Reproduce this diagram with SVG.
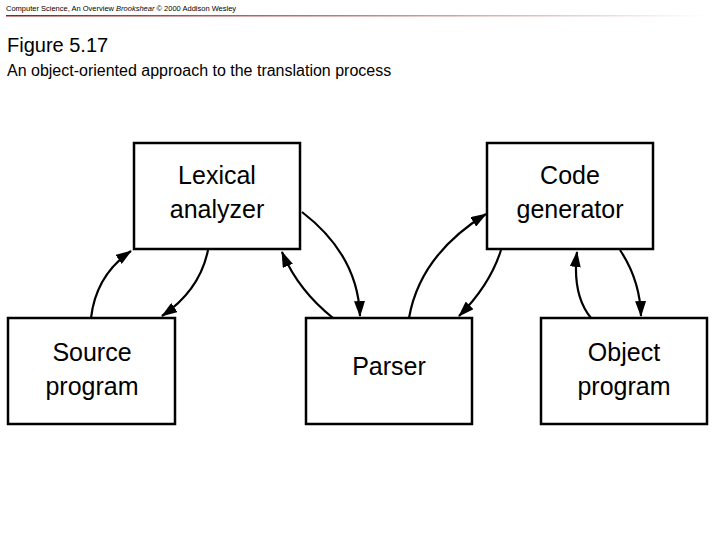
<svg xmlns="http://www.w3.org/2000/svg" width="720" height="540" viewBox="0 0 720 540">
<defs>
<marker id="ah" markerWidth="16" markerHeight="11" refX="15" refY="5.5" orient="auto" markerUnits="userSpaceOnUse" viewBox="0 0 16 11"><path d="M0,0 L16,5.5 L0,11 Z" fill="#000"/></marker>
<linearGradient id="hl" x1="0" x2="1"><stop offset="0" stop-color="#8a2020"/><stop offset="0.5" stop-color="#c08080"/><stop offset="1" stop-color="#fff"/></linearGradient>
</defs>
<style>
.b{fill:#fff;stroke:#000;stroke-width:2.5}
.t{font-family:"Liberation Sans",Arial,sans-serif;font-size:25px;text-anchor:middle;fill:#000}
.c{fill:none;stroke:#000;stroke-width:2.2;marker-end:url(#ah)}
</style>
<rect width="720" height="540" fill="#fff"/>
<text x="6" y="11" font-family="Liberation Sans,Arial,sans-serif" font-size="7.5">Computer Science, An Overview <tspan font-style="italic">Brookshear</tspan> © 2000 Addison Wesley</text>
<rect x="6" y="15" width="700" height="1.5" fill="url(#hl)"/>
<text x="7" y="52" font-family="Liberation Sans,Arial,sans-serif" font-size="20">Figure 5.17</text>
<text x="7" y="76" font-family="Liberation Sans,Arial,sans-serif" font-size="16">An object-oriented approach to the translation process</text>
<g id="lexical"><rect class="b" x="134" y="143" width="166" height="106"/><text class="t" x="217" y="184">Lexical</text><text class="t" x="217" y="218">analyzer</text></g>
<g id="codegen"><rect class="b" x="487" y="143" width="166" height="106"/><text class="t" x="570" y="184">Code</text><text class="t" x="570" y="218">generator</text></g>
<g id="source"><rect class="b" x="8" y="318" width="167" height="106"/><text class="t" x="92" y="361">Source</text><text class="t" x="92" y="395">program</text></g>
<g id="parser"><rect class="b" x="306" y="318" width="166" height="106"/><text class="t" x="389" y="375">Parser</text></g>
<g id="object"><rect class="b" x="541" y="318" width="166" height="106"/><text class="t" x="624" y="361">Object</text><text class="t" x="624" y="395">program</text></g>
<g id="connectors">
<path class="c" d="M91,318 Q96,275 131,251"/>
<path class="c" d="M208,250 Q200,290 162,316"/>
<path class="c" d="M333,318 Q298,290 282,252"/>
<path class="c" d="M302,212 Q358,255 360,316"/>
<path class="c" d="M409,318 Q420,255 486,214"/>
<path class="c" d="M501,250 Q490,285 459,316"/>
<path class="c" d="M591,318 Q572,295 577,252"/>
<path class="c" d="M620,250 Q640,280 641,316"/>
</g>
</svg>
